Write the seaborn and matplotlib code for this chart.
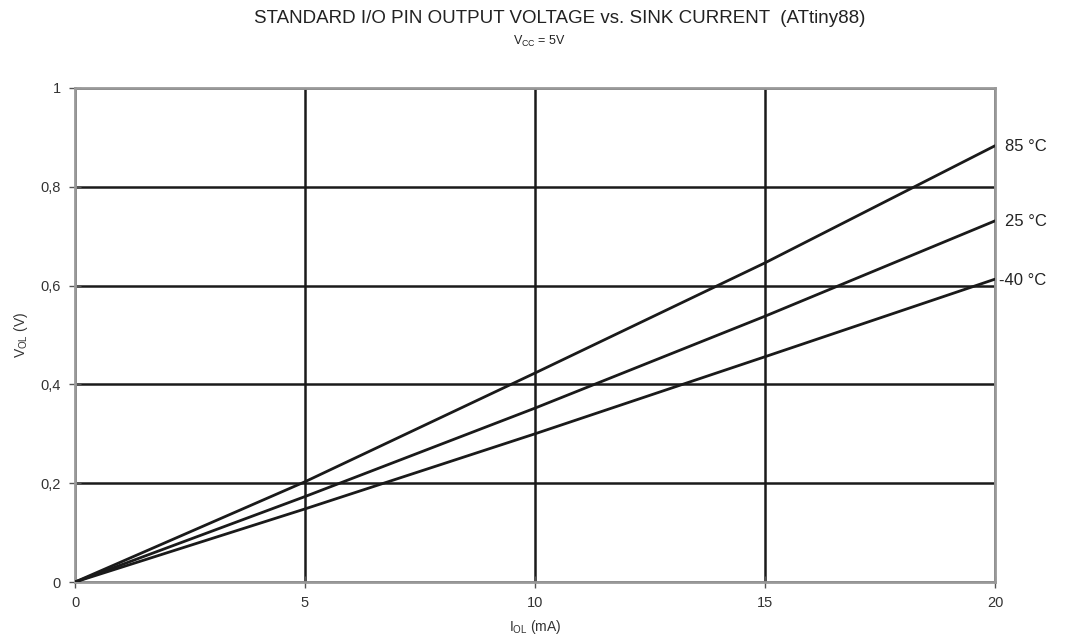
import pandas as pd
import matplotlib.pyplot as plt
import seaborn as sns

# Sink current (mA) and output low voltage (V) per temperature
current = [0, 5, 10, 15, 20]
v_85 = [0, 0.203, 0.423, 0.646, 0.883]
v_25 = [0, 0.173, 0.352, 0.538, 0.731]
v_m40 = [0, 0.148, 0.300, 0.456, 0.613]
temps = ["85 °C", "25 °C", "-40 °C"]

xticks = [0, 5, 10, 15, 20]
yticks = [0, 0.2, 0.4, 0.6, 0.8, 1.0]
ytick_labels = ["0", "0,2", "0,4", "0,6", "0,8", "1"]

df = pd.DataFrame({
    "I": current * 3,
    "V": v_85 + v_25 + v_m40,
    "T": [t for t in temps for _ in current],
})

sns.set_style("white")
plt.rcParams["font.family"] = ["Liberation Sans", "DejaVu Sans"]
plt.rcParams["mathtext.fontset"] = "custom"
plt.rcParams["mathtext.rm"] = "Liberation Sans"

fig = plt.figure(figsize=(10.67, 6.37), dpi=100)
ax = fig.add_axes([0.0703, 0.0863, 0.8622, 0.7756])

sns.lineplot(data=df, x="I", y="V", hue="T", palette=["#1a1a1a"] * 3,
             linewidth=2, legend=False, ax=ax, zorder=3)

ax.set_xlim(0, 20)
ax.set_ylim(0, 1)
ax.set_xticks(xticks)
ax.set_yticks(yticks)
ax.set_yticklabels(ytick_labels)
ax.grid(True, color="#1a1a1a", linewidth=1.8)
ax.set_axisbelow(True)
for s in ax.spines.values():
    s.set_color("#999999")
    s.set_linewidth(2)
ax.tick_params(bottom=True, left=True, direction="inout", length=8, width=1,
               color="#555555", labelsize=10.5, labelcolor="#333333", pad=6)

ax.set_xlabel(r"I$_{\mathregular{OL}}$ (mA)", fontsize=10, color="#333333", labelpad=6)
ax.set_ylabel(r"V$_{\mathregular{OL}}$ (V)", fontsize=10, color="#333333", labelpad=8)

ends = [v_85[-1], v_25[-1], v_m40[-1]]
offsets = [0.22, 0.22, 0.08]
for t, v, o in zip(temps, ends, offsets):
    ax.text(20 + o, v - 0.002, t, fontsize=12, color="#222222", va="center",
            ha="left", clip_on=False)

fig.text(0.525, 0.971, "STANDARD I/O PIN OUTPUT VOLTAGE vs. SINK CURRENT  (ATtiny88)",
         ha="center", va="center", fontsize=13.5, color="#222222")
fig.text(0.506, 0.935, r"V$_{\mathregular{CC}}$ = 5V", ha="center", va="center",
         fontsize=9, color="#222222")

fig.savefig("out.png", dpi=100)
